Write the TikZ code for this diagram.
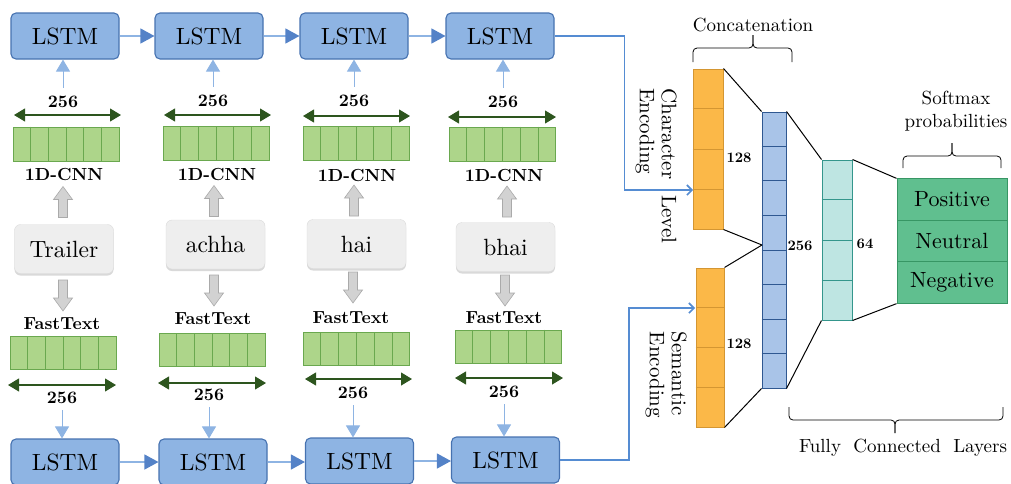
\documentclass[tikz,border=0pt]{standalone}
\usepackage{fontspec}
\setmainfont{lmroman10-regular.otf}[BoldFont=lmroman10-bold.otf, ItalicFont=lmroman10-italic.otf]
\usetikzlibrary{arrows.meta,calc,shadows}
\definecolor{lstmfill}{RGB}{142,180,227}
\definecolor{lstmdraw}{RGB}{70,114,176}
\definecolor{hline}{RGB}{142,180,227}
\definecolor{hhead}{RGB}{84,130,199}
\definecolor{arrfill}{RGB}{173,213,138}
\definecolor{arrdraw}{RGB}{106,168,79}
\definecolor{dimgreen}{RGB}{45,85,30}
\definecolor{grayfill}{RGB}{210,210,210}
\definecolor{graydraw}{RGB}{170,170,170}
\definecolor{wordfill}{RGB}{238,238,238}
\definecolor{worddraw}{RGB}{218,218,218}
\definecolor{orfill}{RGB}{251,184,72}
\definecolor{ordraw}{RGB}{212,150,50}
\definecolor{bcfill}{RGB}{169,196,232}
\definecolor{bcdraw}{RGB}{47,88,145}
\definecolor{tcfill}{RGB}{190,229,226}
\definecolor{tcdraw}{RGB}{52,150,140}
\definecolor{smfill}{RGB}{96,191,143}
\definecolor{smdraw}{RGB}{55,150,100}
\definecolor{rline}{RGB}{85,140,210}
\begin{document}
\begin{tikzpicture}[x=1pt,y=-1pt,
  lstm/.style={draw=lstmdraw, fill=lstmfill, line width=1.1pt, rounded corners=5pt, minimum width=108pt, minimum height=46pt, inner sep=0pt, font=\fontsize{23.5}{26}\selectfont},
  hconn/.style={draw=hline, line width=1.2pt, -{Triangle[length=14pt,width=15pt,color=hhead]}},
  upconn/.style={draw=hline, line width=1pt, -{Triangle[length=12pt,width=14pt]}},
  dimarr/.style={draw=dimgreen, line width=1.1pt, {Triangle[length=11pt,width=13pt]}-{Triangle[length=11pt,width=13pt]}},
  arr/.style={draw=arrdraw, fill=arrfill, line width=1pt, minimum width=106pt, minimum height=34pt, inner sep=0pt},
  cellline/.style={draw=arrdraw, line width=1pt},
  blab/.style={font=\fontsize{17.5}{20}\selectfont\bfseries, inner sep=1pt},
  word/.style={draw=worddraw, fill=wordfill, rounded corners=6pt, minimum width=99pt, minimum height=49pt, font=\fontsize{23.5}{26}\selectfont, drop shadow={shadow xshift=0pt, shadow yshift=-2pt, fill=black!25, opacity=0.6}},
  garrowpic/.pic={\draw[draw=graydraw, fill=grayfill, line width=0.6pt] (-4.5,15.5) -- (-4.5,-2.5) -- (-9.5,-2.5) -- (0,-15.5) -- (9.5,-2.5) -- (4.5,-2.5) -- (4.5,15.5) -- cycle;},
  col/.style={line width=1pt, inner sep=0pt},
  nlab/.style={font=\fontsize{14.5}{16}\selectfont\bfseries, inner sep=1pt},
  fcline/.style={draw=black, line width=1pt},
  rconn/.style={draw=rline, line width=1.6pt, -{Straight Barb[length=5pt,width=10pt]}},
  brc/.style={draw=black, line width=0.8pt, rounded corners=4pt},
  ttl/.style={font=\fontsize{19}{23}\selectfont, inner sep=0pt},
  rot/.style={font=\fontsize{21}{22}\selectfont, rotate=-90, align=left, inner sep=0pt},
  sm/.style={draw=smdraw, fill=smfill, line width=1pt, minimum width=110pt, minimum height=41.3pt, inner sep=0pt, font=\fontsize{22}{25}\selectfont}
]
\useasboundingbox (0,0) rectangle (1011,483);

% ---------- top LSTMs ----------
\node[lstm] (t1) at (65,36) {LSTM};
\node[lstm] (t2) at (209,36) {LSTM};
\node[lstm] (t3) at (354,36) {LSTM};
\node[lstm] (t4) at (500,36) {LSTM};
\draw[hconn] (t1) -- (t2);
\draw[hconn] (t2) -- (t3);
\draw[hconn] (t3) -- (t4);

% ---------- bottom LSTMs ----------
\node[lstm] (b1) at (65,462) {LSTM};
\node[lstm] (b2) at (213,462) {LSTM};
\node[lstm] (b3) at (359.5,461) {LSTM};
\node[lstm] (b4) at (505.5,460) {LSTM};
\draw[hconn] (b1.east) -- (b1.east -| b2.west);
\draw[hconn] (b2.east) -- (b2.east -| b3.west);
\draw[hconn] (b3.east) -- (b3.east -| b4.west);

% ---------- top arrays (1D-CNN) ----------
\node[arr] (a1) at (66,144) {};
\node[arr] (a2) at (216,143.5) {};
\node[arr] (a3) at (356,143.5) {};
\node[arr] (a4) at (502.5,144) {};
% ---------- bottom arrays (FastText) ----------
\node[arr, minimum height=33pt] (f1) at (63,353) {};
\node[arr, minimum height=33pt] (f2) at (212,350) {};
\node[arr, minimum height=33pt] (f3) at (356.5,349) {};
\node[arr, minimum height=33pt] (f4) at (508.5,346.5) {};
\foreach \n in {a1,a2,a3,a4,f1,f2,f3,f4}{
  \foreach \i in {1,...,5}{
    \draw[cellline] ($(\n.north west)!\i/6!(\n.north east)$) -- ($(\n.south west)!\i/6!(\n.south east)$);
  }
}

% ---------- dimension arrows ----------
\coordinate (da1l) at (14,115);  \coordinate (da1r) at (121,115);
\coordinate (da2l) at (164,115); \coordinate (da2r) at (271,115);
\coordinate (da3l) at (303,116); \coordinate (da3r) at (410,116);
\coordinate (da4l) at (448,117); \coordinate (da4r) at (556,117);
\coordinate (df1l) at (8,385);   \coordinate (df1r) at (116,385);
\coordinate (df2l) at (158,383); \coordinate (df2r) at (266,383);
\coordinate (df3l) at (305,379); \coordinate (df3r) at (412,379);
\coordinate (df4l) at (455,378); \coordinate (df4r) at (563,378);
\foreach \n in {da1,da2,da3,da4,df1,df2,df3,df4}{
  \draw[dimarr] (\n l) -- (\n r);
}

% ---------- labels ----------
\node[blab] (ln1) at (63,102) {256};
\node[blab] (ln2) at (213,101) {256};
\node[blab] (ln3) at (354,101) {256};
\node[blab] (ln4) at (503,102) {256};
\node[blab] (cn1) at (64,174) {1D-CNN};
\node[blab] (cn2) at (217,174) {1D-CNN};
\node[blab] (cn3) at (357,175) {1D-CNN};
\node[blab] (cn4) at (504,175) {1D-CNN};
\node[blab] (ft1) at (62,324) {FastText};
\node[blab] (ft2) at (213,319) {FastText};
\node[blab] (ft3) at (351,318) {FastText};
\node[blab] (ft4) at (504,318) {FastText};
\node[blab] (lb1) at (62,398) {256};
\node[blab] (lb2) at (209,395) {256};
\node[blab] (lb3) at (353,393) {256};
\node[blab] (lb4) at (504,392) {256};

% thin arrows to LSTMs
\draw[upconn, shorten <=7pt] (ln1.north) -- (ln1.north |- t1.south);
\draw[upconn, shorten <=7pt] (ln2.north) -- (ln2.north |- t2.south);
\draw[upconn, shorten <=7pt] (ln3.north) -- (ln3.north |- t3.south);
\draw[upconn, shorten <=7pt] (ln4.north) -- (ln4.north |- t4.south);
\draw[upconn, shorten <=5pt] (lb1.south) -- (lb1.south |- b1.north);
\draw[upconn, shorten <=5pt] (lb2.south) -- (lb2.south |- b2.north);
\draw[upconn, shorten <=5pt] (lb3.south) -- (lb3.south |- b3.north);
\draw[upconn, shorten <=5pt] (lb4.south) -- (lb4.south |- b4.north);

% ---------- words ----------
\node[word] (w1) at (64,249) {Trailer};
\node[word] (w2) at (215.5,244.5) {achha};
\node[word] (w3) at (356.5,244) {hai};
\node[word] (w4) at (505.5,247) {bhai};

% ---------- gray block arrows ----------
\pic at (63,202) {garrowpic};
\pic at (214,201) {garrowpic};
\pic at (354,200.5) {garrowpic};
\pic at (507,201.5) {garrowpic};
\pic[rotate=180] at (63,295.5) {garrowpic};
\pic[rotate=180] at (214,290.5) {garrowpic};
\pic[rotate=180] at (353,287.5) {garrowpic};
\pic[rotate=180] at (505,290.5) {garrowpic};

% ---------- right part ----------
\node[col, draw=ordraw, fill=orfill, minimum width=30pt, minimum height=160pt] (o1) at (708,149) {};
\node[col, draw=ordraw, fill=orfill, minimum width=28pt, minimum height=159pt] (o2) at (710,347.5) {};
\node[col, draw=bcdraw, fill=bcfill, minimum width=24pt, minimum height=276pt] (bc) at (774,250) {};
\node[col, draw=tcdraw, fill=tcfill, minimum width=30pt, minimum height=160pt] (tc) at (837,240) {};
\foreach \i in {1,2,3}{
  \draw[draw=ordraw, line width=1pt] ($(o1.north west)!\i/4!(o1.south west)$) -- ($(o1.north east)!\i/4!(o1.south east)$);
  \draw[draw=ordraw, line width=1pt] ($(o2.north west)!\i/4!(o2.south west)$) -- ($(o2.north east)!\i/4!(o2.south east)$);
  \draw[draw=tcdraw, line width=1pt] ($(tc.north west)!\i/4!(tc.south west)$) -- ($(tc.north east)!\i/4!(tc.south east)$);
}
\foreach \i in {1,...,7}{
  \draw[draw=bcdraw, line width=1pt] ($(bc.north west)!\i/8!(bc.south west)$) -- ($(bc.north east)!\i/8!(bc.south east)$);
}
\node[sm] (sm1) at (952,199.5) {Positive};
\node[sm] (sm2) at (952,241) {Neutral};
\node[sm] (sm3) at (952,282.5) {Negative};

\coordinate (bcm) at (762,245);
\draw[fcline] (o1.north east) -- (bc.north west);
\draw[fcline] (o1.south east) -- (bcm);
\draw[fcline] (o2.north east) -- (bcm);
\draw[fcline] (o2.south east) -- (bc.south west);
\draw[fcline] (bc.north east) -- (tc.north west);
\draw[fcline] (bc.south east) -- (tc.south west);
\draw[fcline] (tc.north east) -- (sm1.north west);
\draw[fcline] (tc.south east) -- (sm3.south west);

\node[nlab] (n128a) at (739,158) {128};
\node[nlab] (n128b) at (739,344) {128};
\node[nlab] (n256) at (800,246) {256};
\node[nlab] (n64) at (865,244) {64};

% connectors from LSTM chains
\coordinate (o1in) at (693,190);
\coordinate (o2in) at (695,308);
\draw[rconn] (t4.east) -- ++(70,0) |- (o1in);
\draw[rconn] (b4.east) -- ++(69,0) |- (o2in);

% rotated labels
\node[rot] (ce) at (656,166) {Character\hspace{9pt} Level\\Encoding};
\node[rot] (se) at (666,375) {Semantic\\Encoding};

% braces and titles
\node[ttl] (cat) at (753,25) {Concatenation};
\draw[brc] (693,62) -- (693,48) -- (753,48) -- (753,35);
\draw[brc] (753,35) -- (753,48) -- (792,48) -- (792,62);

\node[ttl, align=center] (smt) at (956,111) {Softmax\\probabilities};
\draw[brc] (903,168) -- (903,156) -- (952,156) -- (952,143);
\draw[brc] (952,143) -- (952,156) -- (1001,156) -- (1001,168);

\node[ttl] (fcl) at (903,448) {Fully\hspace{6pt} Connected\hspace{6pt} Layers};
\draw[brc] (789,407) -- (789,420) -- (895,420) -- (895,433);
\draw[brc] (895,433) -- (895,420) -- (1003,420) -- (1003,407);
\end{tikzpicture}
\end{document}
